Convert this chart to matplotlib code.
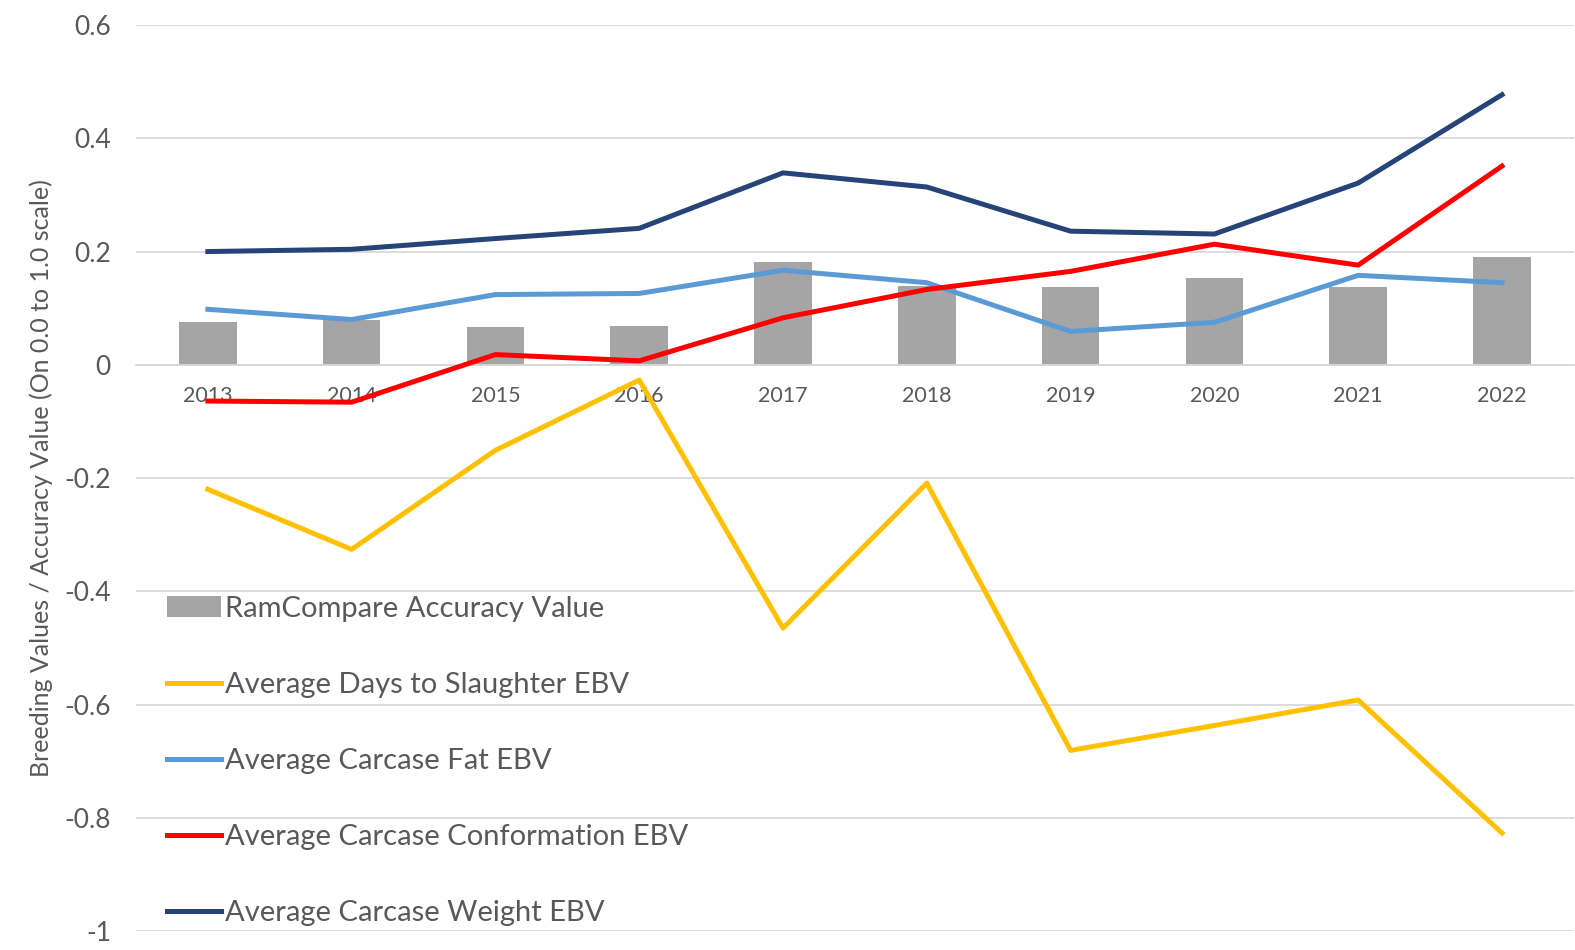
import numpy as np
import matplotlib
matplotlib.use("Agg")
import matplotlib.pyplot as plt

plt.rcParams['font.family'] = ['Lato', 'DejaVu Sans']

# ---------------------------------
# Data
# ---------------------------------
years = ['2013', '2014', '2015', '2016', '2017', '2018', '2019', '2020', '2021', '2022']
accuracy = [0.075, 0.080, 0.066, 0.069, 0.181, 0.140, 0.138, 0.153, 0.137, 0.190]
days_to_slaughter = [-0.220, -0.326, -0.151, -0.027, -0.465, -0.209, -0.681, -0.637, -0.592, -0.827]
carcase_fat = [0.098, 0.080, 0.124, 0.126, 0.167, 0.145, 0.059, 0.075, 0.158, 0.145]
carcase_conf = [-0.064, -0.066, 0.018, 0.007, 0.083, 0.133, 0.165, 0.213, 0.176, 0.351]
carcase_weight = [0.200, 0.204, 0.223, 0.241, 0.339, 0.314, 0.236, 0.231, 0.321, 0.477]

text_col = '#595959'
grid_col = '#D9D9D9'

fig = plt.figure(figsize=(15.75, 9.5), dpi=100)
ax = fig.add_axes([0.0863, 0.020, 0.913, 0.9536])

x = np.arange(len(years))
lw = 3.6

bars = ax.bar(x, accuracy, width=0.4, color='#A5A5A5', label='RamCompare Accuracy Value', zorder=2)
l1, = ax.plot(x, days_to_slaughter, color='#FFC000', lw=lw, label='Average Days to Slaughter EBV', zorder=3)
l2, = ax.plot(x, carcase_fat, color='#5B9BD5', lw=lw, label='Average Carcase Fat EBV', zorder=3)
l3, = ax.plot(x, carcase_conf, color='#FF0000', lw=lw, label='Average Carcase Conformation EBV', zorder=3)
l4, = ax.plot(x, carcase_weight, color='#264478', lw=lw, label='Average Carcase Weight EBV', zorder=3)

ax.set_xlim(-0.5, len(years) - 0.5)
ax.set_ylim(-1, 0.6)
ax.set_yticks(np.arange(-1.0, 0.61, 0.2))
ax.set_yticklabels(['-1', '-0.8', '-0.6', '-0.4', '-0.2', '0', '0.2', '0.4', '0.6'])
ax.yaxis.grid(True, color=grid_col, lw=1.3, zorder=0)
ax.set_axisbelow(True)

# category axis sits on the zero line
for s in ['top', 'right', 'left']:
    ax.spines[s].set_visible(False)
ax.spines['bottom'].set_position(('data', 0))
ax.spines['bottom'].set_color(grid_col)
ax.spines['bottom'].set_linewidth(1.3)
ax.set_xticks(x)
ax.set_xticklabels(years)
ax.tick_params(axis='x', length=0, pad=15, labelsize=15.5, labelcolor=text_col)
ax.tick_params(axis='y', length=0, pad=18, labelsize=19, labelcolor=text_col)

ax.set_ylabel('Breeding Values / Accuracy Value (On 0.0 to 1.0 scale)', fontsize=18,
              color=text_col, labelpad=8)

handles = [bars, l1, l2, l3, l4]
leg = ax.legend(handles, [h.get_label() for h in handles], loc='upper left',
                bbox_to_anchor=(0.0135, 0.383), frameon=False,
                fontsize=21, labelspacing=1.72, handlelength=1.85, handletextpad=0.15,
                borderaxespad=0)
for t in leg.get_texts():
    t.set_color(text_col)

fig.savefig('out.png', dpi=100)
